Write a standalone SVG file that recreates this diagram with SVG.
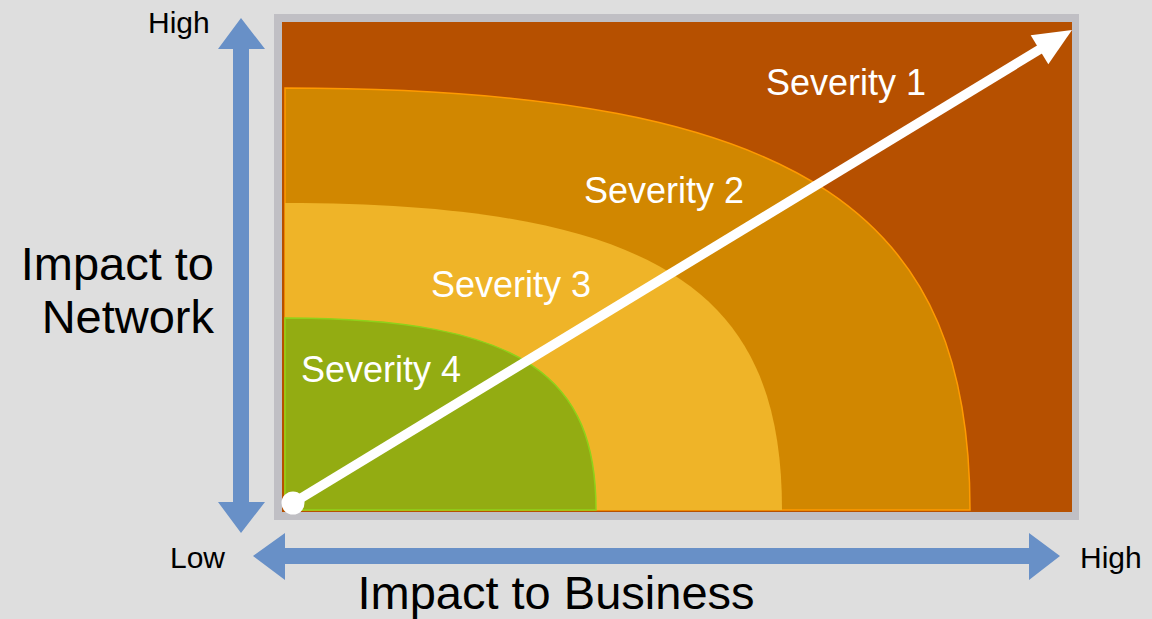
<svg xmlns="http://www.w3.org/2000/svg" width="1152" height="619" viewBox="0 0 1152 619">
  <style>
    .lbl { font-family: "Liberation Sans", Arial, sans-serif; fill: #000000; }
    .sev { font-family: "Liberation Sans", Arial, sans-serif; fill: #ffffff; font-size: 36px; }
    .axis { fill: #6890c7; }
  </style>
  <rect x="0" y="0" width="1152" height="619" fill="#dedede"/>
  <g id="chart-frame">
    <rect x="274" y="14" width="805" height="506" fill="#c0bfc4"/>
    <rect x="282" y="22" width="790" height="490" fill="#b65000"/>
  </g>
  <g id="severity-2">
    <path d="M285,88 L285,510 L970,510 C970,223 819.3,88 285,88 Z" fill="#d18700" stroke="#ff9a00" stroke-width="1.5"/>
  </g>
  <g id="severity-3">
    <path d="M285,203 L285,510 L782,510 C782,301.2 672.7,203 285,203 Z" fill="#efb428"/>
  </g>
  <g id="severity-4">
    <path d="M285,318 L285,510 L596,510 C596,379.4 527.6,318 285,318 Z" fill="#93ac12" stroke="#8fd21a" stroke-width="1.5"/>
  </g>
  <g id="severity-labels">
    <text class="sev" x="766" y="95">Severity 1</text>
    <text class="sev" x="584" y="203">Severity 2</text>
    <text class="sev" x="431" y="297">Severity 3</text>
    <text class="sev" x="301" y="382">Severity 4</text>
  </g>
  <g id="connectors">
    <line x1="293" y1="503" x2="1042" y2="48" stroke="#ffffff" stroke-width="9.5"/>
    <polygon points="1072,30 1048.3,64.2 1030.7,35.2" fill="#ffffff"/>
    <circle cx="293" cy="503" r="11.5" fill="#ffffff"/>
  </g>
  <g id="axis-network">
    <polygon class="axis" points="241,18 265,49 249,49 249,502 265,502 241,533 218,502 233,502 233,49 218,49"/>
    <text class="lbl" x="148" y="33" font-size="30">High</text>
    <text class="lbl" x="214" y="280" font-size="47" text-anchor="end">Impact to</text>
    <text class="lbl" x="214" y="333" font-size="47" text-anchor="end">Network</text>
  </g>
  <g id="axis-business">
    <polygon class="axis" points="253,556 285,533 285,548 1029,548 1029,533 1060,556 1029,580 1029,564 285,564 285,580"/>
    <text class="lbl" x="170" y="568" font-size="30">Low</text>
    <text class="lbl" x="1080" y="568" font-size="30">High</text>
    <text class="lbl" x="556" y="609" font-size="47" text-anchor="middle">Impact to Business</text>
  </g>
</svg>
